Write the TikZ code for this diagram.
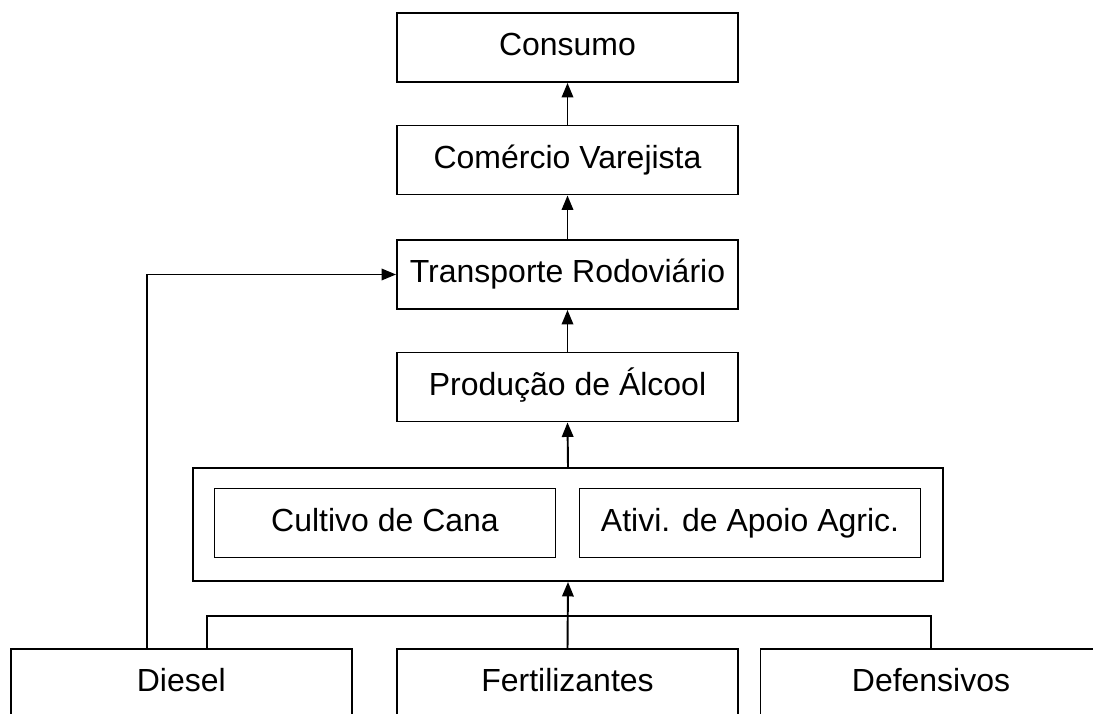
\documentclass[tikz,border=0pt]{standalone}
\usepackage{fontspec}
\setmainfont{Liberation Sans}
\usepackage{tikz}
\usetikzlibrary{positioning, arrows.meta, calc}

\begin{document}
\begin{tikzpicture}[
		blk/.style={rectangle, draw, minimum width=6.82cm, minimum height=1.38cm, inner sep=0pt, text height=13pt, text depth=3.8pt, font=\fontsize{18.2}{21}\selectfont},
		grp/.style={rectangle, draw, minimum width=15cm, minimum height=2.26cm, inner sep=0pt},
		line width=1.1pt,
		>={Triangle[length=0.29cm, width=0.23cm]}
		]
		\useasboundingbox (0,0) rectangle (21.86,14.26);
		\clip (0,0) rectangle (21.86,14.26);
		\node[blk] (cns) at (11.35, 13.31) {Consumo};
		\node[blk] (com) at (11.35, 11.06) {Comércio Varejista};
		\node[blk] (trn) at (11.35, 8.77) {Transporte Rodoviário};
		\node[blk] (alc) at (11.35, 6.52) {Produção de Álcool};
		\node[grp] (agr) at (11.36, 3.77) {};
		\node[blk] (cul) at (7.70, 3.80) {Cultivo de Cana};
		\node[blk] (apo) at (15.00, 3.80) {Ativi. de Apoio Agric.};
		\draw[->] (com.north) to (cns.south);
		\draw[->] (trn.north) to (com.south);
		\draw[->] (alc.north) to (trn.south);
		\draw[->] (agr.north) to (alc.south);
		
		\node[blk] (dsl) at (3.625, 0.59) {Diesel};
		\node[blk] (frt) at (11.35, 0.59) {Fertilizantes};
		\node[blk] (def) at (18.62, 0.59) {Defensivos};
		\coordinate (bus) at (11.35, 1.94);
		\coordinate (d1) at ($(dsl.north west)!0.4!(dsl.north east)$);
		\coordinate (d2) at ($(dsl.north west)!0.576!(dsl.north east)$);
		\draw[->] (d1) |- (trn.west);
		\draw (d2) |- (def.north |- bus) -- (def.north);
		\draw[->] (frt.north) to (agr.south);
		
		\end{tikzpicture}
\end{document}
